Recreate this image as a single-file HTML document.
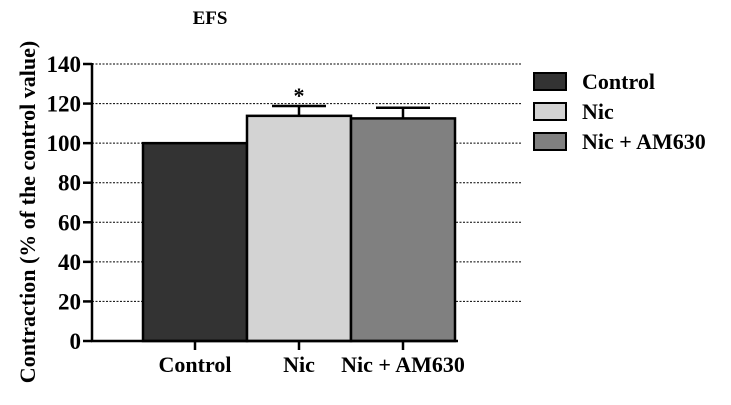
<!DOCTYPE html>
<html><head><meta charset="utf-8"><style>
body{margin:0;background:#fff;}
svg text{font-family:"Liberation Serif",serif;font-weight:bold;fill:#000;}
</style></head><body>
<svg width="731" height="400" id="c"></svg>
<script>
const categories=["Control","Nic","Nic + AM630"];
const values=[100,113.8,112.5];
const errors=[0,5,5.4];
const yTicks=[0,20,40,60,80,100,120,140];
const fills=["#333333","#d3d3d3","#808080"];
const svg=document.getElementById('c');
const NS="http://www.w3.org/2000/svg";
function y(v){return 341-v*(277/140);}
const barX0=143,barW=104;
function bx(i){return barX0+i*barW;}
function add(tag,attrs,text){const e=document.createElementNS(NS,tag);for(const k in attrs)e.setAttribute(k,attrs[k]);if(text!==undefined)e.textContent=text;svg.appendChild(e);return e;}
let t=add('text',{x:210,y:24,'font-size':19,'text-anchor':'middle'},'EFS');


yTicks.forEach(v=>{
 if(v>0){const g=add('line',{x1:92,x2:522,y1:y(v),y2:y(v),stroke:'#000','stroke-width':1,'stroke-dasharray':'2,1.5'});
 
 }
 const tk=add('line',{x1:83,x2:92,y1:y(v),y2:y(v),stroke:'#000','stroke-width':2.5});
 
 
 const l=add('text',{x:81,y:y(v)+8,'font-size':23,'text-anchor':'end'},String(v));
 
 
});
categories.forEach((c,i)=>{
 const r=add('rect',{x:bx(i),y:y(values[i]),width:barW,height:341-y(values[i]),fill:fills[i],stroke:'#000','stroke-width':2.5});
 
 
 const cx=bx(i)+barW/2;
 if(errors[i]>0){
  const e=add('line',{x1:cx,x2:cx,y1:y(values[i]),y2:y(values[i]+errors[i]),stroke:'#000','stroke-width':2.5});
  
  
  const cp=add('line',{x1:cx-27,x2:cx+27,y1:y(values[i]+errors[i]),y2:y(values[i]+errors[i]),stroke:'#000','stroke-width':2.5});
  
  
 }
 const xt=add('line',{x1:cx,x2:cx,y1:341,y2:350,stroke:'#000','stroke-width':2.5});
 
 
 const xl=add('text',{x:cx,y:372,'font-size':22,'text-anchor':'middle'},c);
 
 
 const lb=add('rect',{x:534,y:73+i*30,width:32,height:17,fill:fills[i],stroke:'#000','stroke-width':2});
 
 
 const lt=add('text',{x:582,y:89+i*30,'font-size':22},c);
 
 
});
const st=add('text',{x:bx(1)+barW/2,y:y(values[1]+errors[1])-3,'font-size':22,'text-anchor':'middle'},'*');


const ya=add('line',{x1:92,x2:92,y1:63,y2:342,stroke:'#000','stroke-width':2.5});


const xa=add('line',{x1:91,x2:458,y1:341,y2:341,stroke:'#000','stroke-width':2.5});


const yt=add('text',{x:0,y:0,'font-size':22,'text-anchor':'middle',transform:'translate(35,212) rotate(-90)'},'Contraction (% of the control value)');


</script>
</body></html>
